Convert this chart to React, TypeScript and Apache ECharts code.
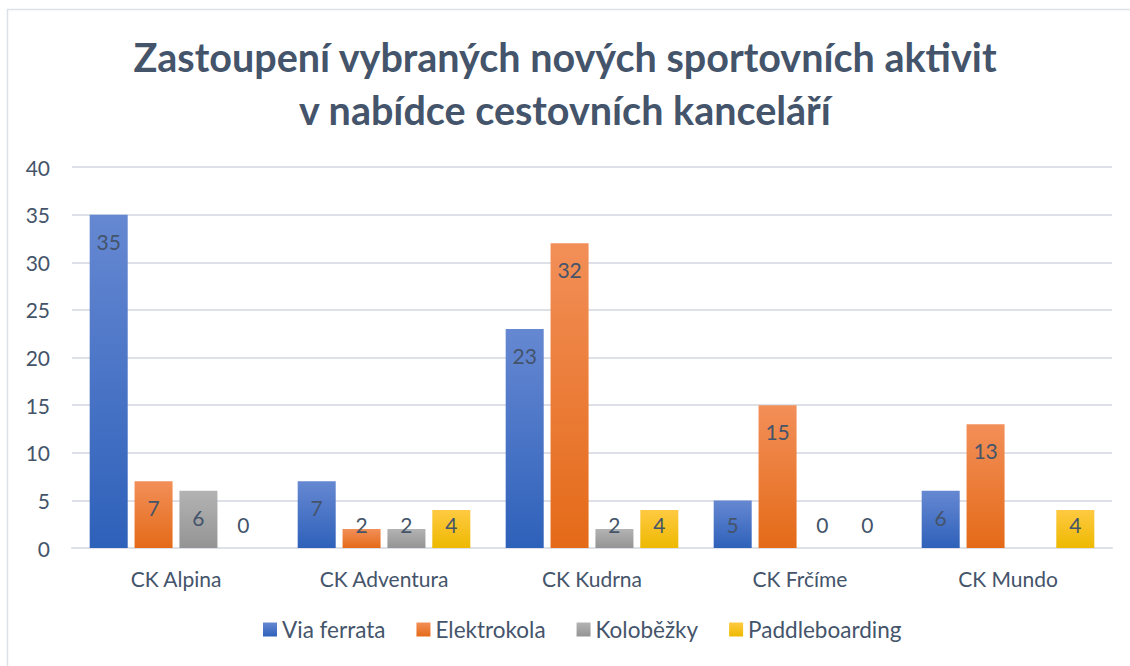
import React, { useEffect, useRef } from "react";
import * as echarts from "echarts";

const categories = ["CK Alpina", "CK Adventura", "CK Kudrna", "CK Frčíme", "CK Mundo"];
const seriesNames = ["Via ferrata", "Elektrokola", "Koloběžky", "Paddleboarding"];
const viaFerrata = [35, 7, 23, 5, 6];
const elektrokola = [7, 2, 32, 15, 13];
const kolobezky: (number | null)[] = [6, 2, 2, 0, null];
const paddleboarding = [0, 4, 4, 0, 4];
const yTicks = { min: 0, max: 40, interval: 5 };

const gradients = [
  ["#6688D2", "#2E61BA"],
  ["#F28F58", "#E46A18"],
  ["#B3B3B3", "#949494"],
  ["#FFCA42", "#EDB900"],
];

const TEXT = "#44546A";
const FONT = "Lato, 'Open Sans', sans-serif";

function grad(i: number) {
  return new echarts.graphic.LinearGradient(0, 0, 0, 1, [
    { offset: 0, color: gradients[i][0] },
    { offset: 1, color: gradients[i][1] },
  ]);
}

function makeData(vals: (number | null)[]) {
  return vals.map((v) => {
    if (v === null) return { value: null, label: { show: false } };
    const small = v <= 5;
    return {
      value: v,
      label: small
        ? { position: "insideBottom", distance: 13 }
        : { position: "insideTop", distance: 16 },
    };
  });
}

export default function App() {
  const ref = useRef<HTMLDivElement>(null);
  useEffect(() => {
    if (!ref.current) return;
    const chart = echarts.init(ref.current, null, { renderer: "svg" });
    const all = [viaFerrata, elektrokola, kolobezky, paddleboarding];
    chart.setOption({
      animation: false,
      backgroundColor: "#ffffff",
      textStyle: { fontFamily: FONT },
      title: {
        text: "Zastoupení vybraných nových sportovních aktivit\nv nabídce cestovních kanceláří",
        left: "center",
        top: 25,
        textStyle: {
          fontFamily: FONT,
          fontSize: 39.5,
          fontWeight: "bold",
          color: TEXT,
          lineHeight: 53,
        },
      },
      graphic: [
        {
          type: "rect",
          shape: { x: 7.5, y: 9.5, width: 1200, height: 700 },
          style: { fill: "none", stroke: "#DDE1E7", lineWidth: 1.5 },
          silent: true,
        },
      ],
      legend: {
        bottom: 20,
        left: 258,
        itemWidth: 14,
        itemHeight: 14,
        itemGap: 31,
        icon: "rect",
        textStyle: { fontFamily: FONT, fontSize: 22.5, color: TEXT },
        data: seriesNames,
      },
      grid: { left: 72, right: 18, top: 167, bottom: 118 },
      xAxis: {
        type: "category",
        data: categories,
        axisLine: { lineStyle: { color: "#DDE1E7", width: 2 } },
        axisTick: { show: false },
        axisLabel: { fontFamily: FONT, fontSize: 21, color: TEXT, margin: 20 },
      },
      yAxis: {
        type: "value",
        min: yTicks.min,
        max: yTicks.max,
        interval: yTicks.interval,
        axisLine: { show: false },
        axisTick: { show: false },
        splitLine: { lineStyle: { color: "#DDE1E7", width: 2 } },
        axisLabel: { fontFamily: FONT, fontSize: 21, color: TEXT, margin: 22 },
      },
      series: all.map((vals, i) => ({
        type: "bar",
        name: seriesNames[i],
        data: makeData(vals),
        barGap: "18%",
        barCategoryGap: "17%",
        itemStyle: { color: grad(i) },
        label: {
          show: true,
          fontFamily: FONT,
          fontSize: 21,
          color: TEXT,
        },
      })),
    });
    return () => chart.dispose();
  }, []);
  return (
    <div
      ref={ref}
      style={{ position: "fixed", left: 0, top: 0, width: 1130, height: 666 }}
    />
  );
}
